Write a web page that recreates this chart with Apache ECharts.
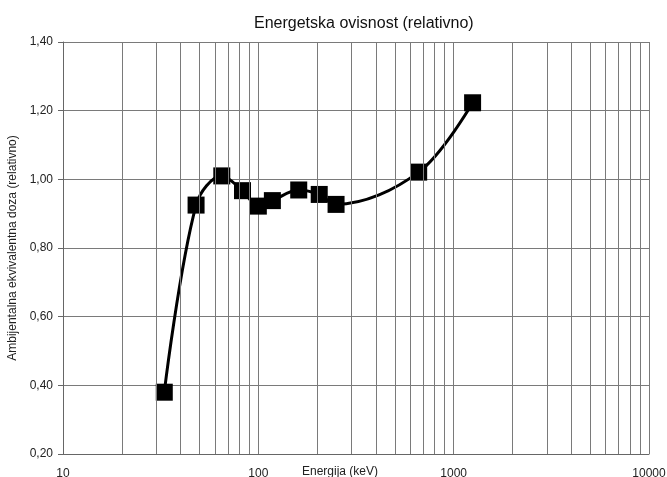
<!DOCTYPE html>
<html>
<head>
<meta charset="utf-8">
<script src="https://cdn.jsdelivr.net/npm/echarts@6/dist/echarts.min.js"></script>
<style>
  html, body { margin: 0; padding: 0; background: #fff; }
  #main { width: 667px; height: 477px; }
</style>
</head>
<body>
<div id="main"></div>
<script>
// energija (keV) i relativna doza
const energy = [33, 48, 65, 83, 100, 118, 161, 205, 250, 662, 1250]
const dose = [0.38, 0.925, 1.01, 0.967, 0.922, 0.938, 0.969, 0.956, 0.927, 1.021, 1.223]
// pomocne vertikalne linije mreze (log skala)
const minorTicks = [
  20, 30, 40, 50, 60, 70, 80, 90,
  200, 300, 400, 500, 600, 700, 800, 900,
  2000, 3000, 4000, 5000, 6000, 7000, 8000, 9000
]

const gridColor = '#7a7a7a'
const myChart = echarts.init(document.getElementById('main'))

const option = {
  animation: false,
  backgroundColor: '#fff',
  title: {
    text: 'Energetska ovisnost (relativno)',
    left: 249,
    top: 11,
    textStyle: { fontFamily: 'Liberation Sans', fontSize: 16, fontWeight: 'normal', color: '#111' }
  },
  grid: { left: 63, right: 18, top: 42, bottom: 23, outerBoundsMode: 'none', containLabel: false },
  xAxis: {
    type: 'log',
    logBase: 10,
    min: 10,
    max: 10000,
    name: 'Energija (keV)',
    nameLocation: 'middle',
    nameGap: 12,
    nameMoveOverlap: false,
    nameTextStyle: { fontFamily: 'Liberation Sans', fontSize: 12, color: '#222', padding: [0, 32, 0, 0] },
    axisLine: { show: true, lineStyle: { color: '#666', width: 1 } },
    axisTick: { show: false },
    axisLabel: {
      fontFamily: 'Liberation Sans',
      fontSize: 12,
      color: '#222',
      margin: 14,
      formatter: (v) => String(Math.round(v))
    },
    splitLine: { show: true, lineStyle: { color: gridColor, width: 1 } }
  },
  yAxis: {
    type: 'value',
    min: 0.2,
    max: 1.4,
    interval: 0.2,
    name: 'Ambijentalna ekvivalentna doza (relativno)',
    nameLocation: 'middle',
    nameGap: 42,
    nameTextStyle: { fontFamily: 'Liberation Sans', fontSize: 12, color: '#222' },
    axisLine: { show: true, lineStyle: { color: '#666', width: 1 } },
    axisTick: { show: true, length: 5, lineStyle: { color: '#666' } },
    axisLabel: {
      fontFamily: 'Liberation Sans',
      fontSize: 12,
      color: '#222',
      margin: 10,
      formatter: (v) => v.toFixed(2).replace('.', ',')
    },
    splitLine: { show: true, lineStyle: { color: gridColor, width: 1 } }
  },
  series: [
    {
      type: 'line',
      data: [],
      z: 1,
      silent: true,
      markLine: {
        silent: true,
        symbol: ['none', 'none'],
        animation: false,
        label: { show: false },
        lineStyle: { type: 'solid', color: gridColor, width: 1 },
        data: minorTicks.map(v => ({ xAxis: v }))
      }
    },
    {
      type: 'line',
      z: 3,
      data: energy.map((e, i) => [e, dose[i]]),
      smooth: 0.35,
      symbol: 'rect',
      symbolSize: 17,
      lineStyle: { color: '#000', width: 3 },
      itemStyle: { color: '#000' }
    }
  ]
}

myChart.setOption(option)
</script>
</body>
</html>
